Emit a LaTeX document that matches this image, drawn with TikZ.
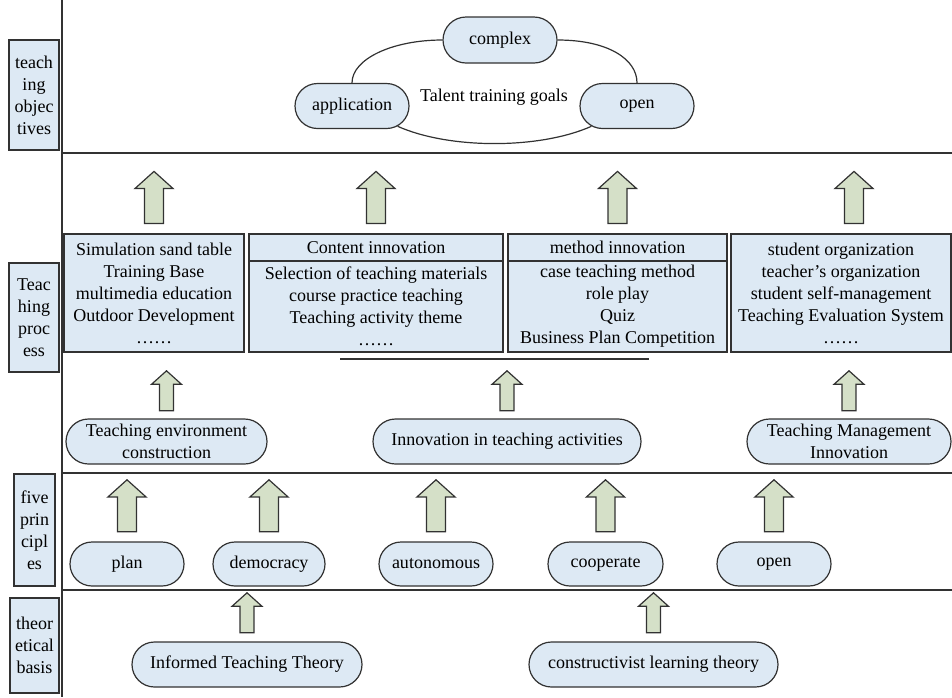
\documentclass[tikz,border=0pt]{standalone}
\usepackage{fontspec}
\setmainfont{Liberation Serif}
\usetikzlibrary{positioning,shapes.misc,shapes.arrows}

\definecolor{boxblue}{RGB}{221,233,244}
\definecolor{arrowgreen}{RGB}{213,224,200}
\definecolor{linegray}{RGB}{50,50,50}

\tikzset{
	lab/.style={rectangle, draw=linegray, fill=boxblue, line width=1.2pt, align=center, inner sep=0pt},
	oval/.style={rounded rectangle, draw=linegray, fill=boxblue, line width=1.2pt, align=center, inner sep=0pt, minimum height=45},
	procbox/.style={rectangle, draw=linegray, fill=boxblue, line width=1.2pt, align=center, inner sep=0pt, outer sep=0pt},
	bigup/.style={single arrow, rotate=90, draw=linegray, fill=arrowgreen, line width=1.2pt, inner xsep=0pt, inner ysep=6.5pt, minimum height=52, minimum width=38, single arrow tip angle=96, anchor=tail},
	smallup/.style={bigup, inner ysep=5.5pt, minimum height=40, minimum width=30},
	sep/.style={draw=linegray, line width=1.4pt},
	ring/.style={draw=linegray, line width=1.2pt}
}

\begin{document}
\begin{tikzpicture}[x=1pt,y=-1pt,font=\fontsize{18}{22}\selectfont]
				\useasboundingbox (0,0) rectangle (952,697);
				
				% frame
				\draw[sep] (62,0) -- (62,697);
				\draw[sep] (62,153) -- (952,153);
				\draw[sep] (62,473) -- (952,473);
				\draw[sep] (62,590) -- (952,590);
				
				% row labels
				\draw (34,95) node[lab, minimum width=50, minimum height=110] (obj) {teach\\ing\\objec\\tives};
				\draw (34,317.5) node[lab, minimum width=50, minimum height=109] (proc) {Teac\\hing\\proc\\ess};
				\draw (34.5,530) node[lab, minimum width=41, minimum height=112] (five) {five\\prin\\cipl\\es};
				\draw (34.5,645.5) node[lab, minimum width=49, minimum height=95] (theo) {theor\\etical\\basis};
				
				% teaching objectives
				\draw (500,40) node[oval, minimum width=114, minimum height=46] (cplx) {complex};
				\draw (352,106) node[oval, minimum width=114] (appl) {application};
				\draw (637,106) node[oval, minimum width=114] (opn) {open};
				\draw (494,97) node (goal) {Talent training goals};
				\draw[ring] (appl.north) .. controls +(0,-24) and +(-50,0) .. (cplx.west);
				\draw[ring] (cplx.east) .. controls +(50,0) and +(0,-24) .. (opn.north);
				\draw[ring] (appl) to[out=-24,in=-156,looseness=0.75] (opn);
				
				% teaching process
				\draw (154,293) node[procbox, minimum width=180, minimum height=118] (env) {Simulation sand table\\Training Base\\multimedia education\\Outdoor Development\\……};
				\draw (376,247.5) node[procbox, minimum width=254, minimum height=27] (conthead) {Content innovation};
				\node[procbox, minimum width=254, minimum height=91, below=0pt of conthead] (contbody) {Selection of teaching materials\\course practice teaching\\Teaching activity theme\\……};
				\draw (617.5,247.5) node[procbox, minimum width=219, minimum height=27] (methhead) {method innovation};
				\node[procbox, minimum width=219, minimum height=91, below=0pt of methhead] (methbody) {case teaching method\\role play\\Quiz\\Business Plan Competition};
				\draw (841,293) node[procbox, minimum width=220, minimum height=118] (mgmt) {student organization\\teacher's organization\\student self-management\\Teaching Evaluation System\\……};
				\draw[ring] (340,359) -- (649,359);
				
				\node[bigup, above=10pt of env, anchor=tail] (up1) {};
				\node[bigup, above=10pt of conthead, anchor=tail] (up2) {};
				\node[bigup, above=10pt of methhead, anchor=tail] (up3) {};
				\node[bigup] (up4) at ([xshift=13pt,yshift=10pt]mgmt.north) {};
				
				\draw (166.5,441.5) node[oval, minimum width=201] (envc) {Teaching environment\\construction};
				\draw (507,441.5) node[oval, minimum width=268] (actc) {Innovation in teaching activities};
				\draw (849,441.5) node[oval, minimum width=204] (mgmtc) {Teaching Management\\Innovation};
				
				\node[smallup, above=7pt of envc, anchor=tail] (sup1) {};
				\node[smallup, above=7pt of actc, anchor=tail] (sup2) {};
				\node[smallup, above=7pt of mgmtc, anchor=tail] (sup3) {};
				
				% five principles
				\draw (127,564) node[oval, minimum width=114, minimum height=44] (plan) {plan};
				\draw (269,564) node[oval, minimum width=112, minimum height=44] (demo) {democracy};
				\draw (436,564) node[oval, minimum width=114, minimum height=44] (auto) {autonomous};
				\draw (605.5,564) node[oval, minimum width=115, minimum height=44] (coop) {cooperate};
				\draw (774,564) node[oval, minimum width=114, minimum height=44] (open) {open};
				
				\foreach \p in {plan,demo,auto,coop,open}
					\node[bigup, above=9pt of \p, anchor=tail] (up\p) {};
				
				% theoretical basis
				\draw (247,664.5) node[oval, minimum width=230] (info) {Informed Teaching Theory};
				\draw (653.5,664.5) node[oval, minimum width=249] (cons) {constructivist learning theory};
				
				\node[smallup, above=8pt of info, anchor=tail] (tup1) {};
				\node[smallup, above=8pt of cons, anchor=tail] (tup2) {};
			\end{tikzpicture}
\end{document}
